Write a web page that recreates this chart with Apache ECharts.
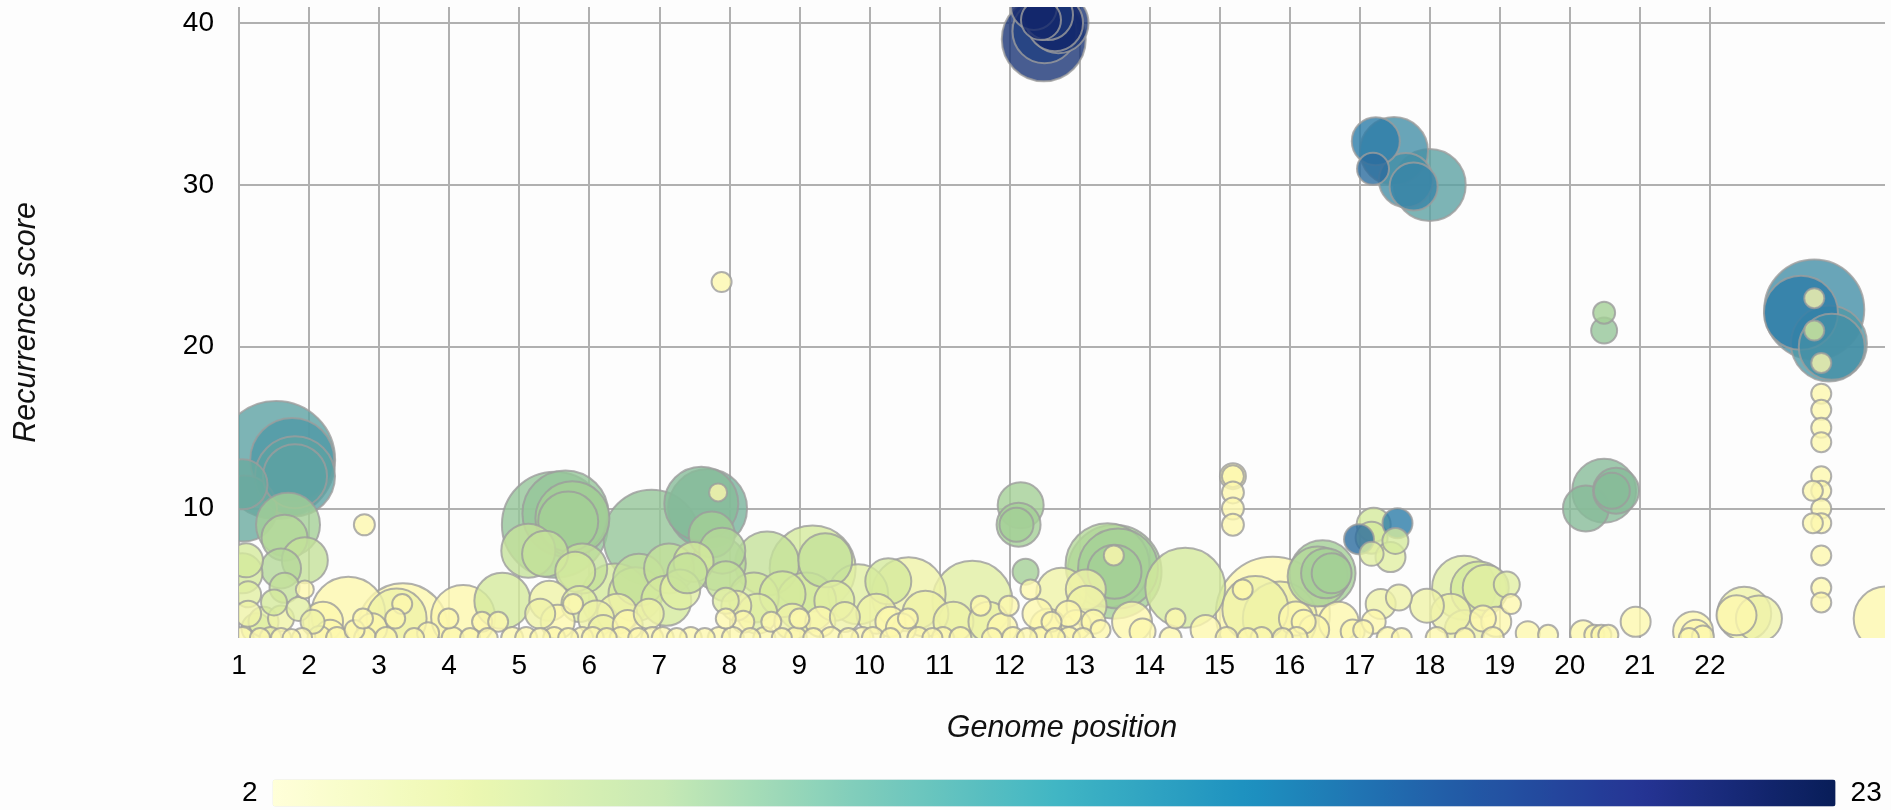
<!DOCTYPE html>
<html>
<head>
<meta charset="utf-8">
<script src="https://cdn.jsdelivr.net/npm/echarts@6/dist/echarts.min.js"></script>
<style>html,body{margin:0;padding:0;background:#fdfdfd;}#c{width:1891px;height:810px;}</style>
</head>
<body>
<div id="c"></div>
<script>
// Each row: [genome position (chromosome index + offset), recurrence score, bubble size, sample count]
const chromLabels = ['1','2','3','4','5','6','7','8','9','10','11','12','13','14','15','16','17','18','19','20','21','22'];
const colorRange = [2, 23];
const barPalette = ['#ffffd9','#edf8b1','#c7e9b4','#7fcdbb','#41b6c4','#1d91c0','#225ea8','#253494','#081d58'];
const bubblePalette = ['#fcf8ae','#d4ea9c','#a4cf96','#78b39b','#4f98a6','#2c7ca7','#284d8c','#13276b'];

const chr1Points = [
[1.53,13,118,13],[1.76,13,84,14],[1.8,12,80,13],[1.8,12,64,13],[1.07,10,66,12],[1.05,11.5,50,12],
[1.7,9,64,8],[1.65,8.2,46,7],[1.94,6.8,46,6],[1.6,6.3,40,7],[1.1,6.8,34,5],[1.05,6,40,5],
[1.65,5.1,30,6],[1.94,5,18,2],[1.13,4.7,26,4],[1.13,3.5,26,3],[1.6,3.2,26,3],[1.25,2.6,30,4],
[1.35,3.0,30,4],[1.5,4.2,26,5],[1.85,3.8,24,4],
[1.05,2,22,2],[1.3,2,20,2],[1.45,2,22,3],[1.6,2,20,2],[1.75,2,18,2],[1.9,2,20,2]
];
const chr2to4Points = [
[2.56,3.5,74,2],[2.3,2.2,30,2],[2.15,2,24,2],[2.4,2,22,2],[2.05,3,24,3],[2.79,9,21,2],[2.8,2,22,2],[2.65,2.5,20,2],
[2.2,3.0,40,2],[2.9,2.6,30,2],
[3.34,2.6,90,2],[3.25,3.2,60,3],[3.33,4.1,20,2],[3.23,3.2,20,2],[2.77,3.2,20,2],[3.1,2,22,2],[3.5,2,20,2],[3.7,2.3,22,2],
[4.2,3.3,64,2],[4.76,4.3,56,5],[3.99,3.2,20,2],[4.47,3,20,2],[4.7,3,20,2],[4.05,2,22,2],[4.3,2,20,2],[4.55,2,20,2],[4.9,2,22,2]
];
const chr5to7Points = [
[5.51,9,106,9],[5.66,9.7,86,9],[5.76,9.4,74,8],[5.7,9.2,60,8],[5.13,7.4,54,6],[5.37,7.2,46,6],[5.8,6.1,40,5],[5.9,6.3,50,6],
[5.43,4.3,40,3],[5.77,4.1,20,2],[5.3,3.5,30,3],[5.55,3,34,2],[5.1,2,22,2],[5.3,2,20,2],[5.5,2,22,2],[5.7,2,20,2],[5.9,2,22,2],
[5.86,4.1,36,4],[6.37,4.5,68,5],[6.71,5.6,52,6],[6.66,4.7,54,5],[6.4,3.5,40,3],[6.2,2.5,30,3],
[6.1,3.2,36,3],[6.55,2.8,30,2],[6.85,3.5,30,3],
[6.05,2,22,2],[6.25,2,20,2],[6.45,2,22,2],[6.7,2,20,2],[6.9,2,22,2],
[6.89,8.2,96,9],[7.14,6.3,50,6],[7.49,6.7,40,5],[7.1,4.3,50,5],[7.3,5,40,4],
[7.69,10,79,11],[7.6,10.3,74,10],[7.84,11,18,2],[7.75,8.4,46,8],[7.9,7.4,46,7],[7.4,6,40,6],[7.85,6.6,54,7],[7.95,5.5,40,6],[7.95,4.3,26,4],[7.95,3.2,20,2],
[7.05,2,22,2],[7.25,2,20,2],[7.45,2,22,2],[7.65,2,20,2],[7.85,2,22,2],[7.89,24,20,2]
];
const chr8to11Points = [
[8.54,6.6,64,6],[9.19,6.3,86,5],[9.37,6.8,54,6],[8.76,4.7,46,5],[9.5,4.3,40,4],[9.84,4.7,60,4],[9.1,4.2,60,5],[8.35,4.5,50,5],
[8.2,3,22,2],[8.6,3,20,2],[9.0,3.2,20,2],
[8.1,4.0,30,3],[8.4,3.5,40,4],[8.9,3.0,36,3],[9.3,3.0,30,2],[9.65,3.3,30,3],
[8.05,2,22,2],[8.3,2,20,2],[8.5,2,22,2],[8.75,2,20,2],[8.95,2,22,2],[9.2,2,20,2],[9.45,2,22,2],[9.7,2,20,2],[9.9,2,22,2],
[10.56,4.7,74,3],[10.27,5.5,46,5],[10.1,3.5,40,3],[10.3,3,30,2],[10.55,3.2,20,2],[10.8,3.5,46,3],[10.45,2.6,30,2],
[10.05,2,22,2],[10.3,2,20,2],[10.7,2,22,2],[10.9,2,20,2],
[11.47,4.3,80,4],[11.59,4,20,2],[11.99,4,20,2],[11.2,3,40,3],[11.7,3.0,40,3],[11.9,2.6,30,2],
[11.05,2,22,2],[11.3,2,22,2],[11.75,2,20,2]
];
const chr12to14Points = [
[12.16,10.2,46,8],[12.13,9,44,8],[12.1,9,34,8],[12.3,5,20,2],[12.23,6.1,26,8],[12.74,4.8,50,3],[13.09,5,40,3],
[12.4,3.5,30,2],[12.6,3,20,2],[12.84,3.5,26,2],[12.55,2.7,36,2],[12.95,2.8,30,2],
[12.05,2,22,2],[12.25,2,20,2],[12.45,2,22,2],[12.65,2,20,2],[12.85,2,22,2],
[12.35,41,46,23],[12.55,40.5,50,22],[12.65,40,56,23],[12.5,39.5,64,21],[12.49,39,84,22],[12.7,40,60,22],[12.45,40.2,40,23],
[13.5,6.1,94,8],[13.55,6.3,80,8],[13.5,6.1,54,8],[13.4,6.5,84,7],[13.49,7.1,20,2],[13.1,4,40,3],[13.2,3,24,2],[13.3,2.5,20,2],[13.05,2,20,2],
[13.75,3.0,40,2],[13.9,2.4,26,2],
[14.51,5.1,80,5],[14.37,3.2,20,2],[14.3,2,22,2],[14.8,2.5,30,2]
];
const chr15to19Points = [
[15.19,12,26,2],[15.19,12,22,2],[15.19,11,22,2],[15.19,10,22,2],[15.19,9,22,2],
[15.76,3.5,114,2],[15.51,3.8,66,3],[15.86,3.2,74,3],[15.33,5,20,2],[16.09,3.2,34,2],[15.1,2,22,2],[15.4,2,20,2],[15.6,2,22,2],[15.9,2,20,2],
[16.47,6,66,8],[16.52,6,50,8],[16.6,6,40,8],[16.4,5.8,60,7],[16.2,3,24,2],[16.35,2.5,30,2],[16.1,2,22,2],[16.7,3.0,40,2],[16.9,2.4,24,2],
[17.54,9.1,30,17],[16.99,8.1,30,18],[17.2,9,34,5],[17.17,8.2,32,5],[17.51,8,26,5],[17.44,7,30,4],[17.17,7.2,24,4],
[17.3,4.1,30,3],[17.56,4.5,26,3],[17.96,4,34,3],[17.05,2.5,20,2],[17.2,3,24,2],[17.4,2,22,2],[17.6,2,20,2],
[17.23,32.7,48,17],[17.49,32.1,68,15],[17.19,31,32,18],[17.66,30.3,54,15],[17.77,29.9,48,16],[18.0,30,72,13],
[18.49,5.1,64,4],[18.8,5.1,46,4],[18.7,5,56,5],[18.76,3.2,26,2],[18.5,2.5,40,3],[18.3,3.5,40,3],[18.95,3.0,30,2],
[18.1,2,22,2],[18.5,2,20,2],[18.9,2,22,2],
[19.16,4.1,20,2],[19.1,5.3,26,4],[19.69,2.2,20,2],[19.4,2.3,24,2]
];
const chr20toYPoints = [
[20.49,22.1,22,8],[20.49,21,26,9],[20.49,11.1,64,10],[20.23,10,46,10],[20.66,11.1,46,10],[20.6,11.1,36,10],
[20.19,2.3,26,2],[20.35,2.2,20,2],[20.45,2.2,20,2],[20.55,2.2,20,2],[20.94,3,30,2],
[21.76,2.4,40,2],[21.8,2.2,30,2],[21.7,2,20,2],[21.9,2.1,22,2],
[22.49,3.5,54,3],[22.7,3.2,46,3],[22.38,3.4,40,2],
[23.49,22.3,100,15],[23.3,22.1,74,17],[23.7,20.2,76,14],[23.74,20,66,15],
[23.49,23,20,2],[23.49,21,20,5],[23.59,19,20,2],
[23.59,17.1,20,2],[23.59,16.1,20,2],[23.59,15,20,2],[23.59,14.1,20,2],[23.59,12,20,2],[23.59,11.1,20,2],[23.59,10,20,2],[23.59,9.1,20,2],[23.59,7.1,20,2],[23.59,5.1,20,2],[23.59,4.2,20,2],[23.47,11.1,20,2],[23.47,9.1,20,2],
[24.51,3.2,64,2]
];

const allPoints = [].concat(chr1Points, chr2to4Points, chr5to7Points, chr8to11Points, chr12to14Points, chr15to19Points, chr20toYPoints)
  .slice().sort((a, b) => b[2] - a[2]);

const FONT = '"Liberation Sans", Arial, Helvetica, sans-serif';
const gridColor = '#b0b0b0';
const xLineColors = [];
for (let i = 0; i < 24; i++) xLineColors.push(i < chromLabels.length ? gridColor : 'rgba(0,0,0,0)');

const chart = echarts.init(document.getElementById('c'), null, {renderer: 'canvas'});
chart.setOption({
  animation: false,
  backgroundColor: '#fdfdfd',
  grid: {left: 239, right: 6, top: 7, bottom: 172, containLabel: false, outerBoundsMode: 'none'},
  xAxis: {
    type: 'value', min: 1, max: 24.5, interval: 1,
    name: 'Genome position', nameLocation: 'middle', nameGap: 76,
    nameTextStyle: {fontSize: 30.5, fontStyle: 'italic', color: '#111', fontFamily: FONT},
    axisLine: {show: false}, axisTick: {show: false},
    axisLabel: {
      fontSize: 28, color: '#000', fontFamily: FONT, margin: 14,
      showMaxLabel: false,
      formatter: v => (v >= 1 && v <= chromLabels.length && Number.isInteger(v)) ? chromLabels[v - 1] : ''
    },
    splitLine: {show: true, showMaxLine: false, lineStyle: {color: xLineColors, width: 2}}
  },
  yAxis: {
    type: 'value', min: 2, max: 41,
    name: 'Recurrence score', nameLocation: 'middle', nameGap: 197, nameRotate: 90,
    nameTextStyle: {fontSize: 30.5, fontStyle: 'italic', color: '#111', fontFamily: FONT},
    axisLine: {show: false}, axisTick: {show: false},
    axisLabel: {fontSize: 28, color: '#000', fontFamily: FONT, margin: 25, showMinLabel: false, showMaxLabel: false},
    splitLine: {show: true, showMinLine: false, showMaxLine: false, lineStyle: {color: gridColor, width: 2}}
  },
  visualMap: {
    type: 'continuous', min: colorRange[0], max: colorRange[1], dimension: 3, seriesIndex: 0,
    orient: 'horizontal', left: 227, top: 764, itemWidth: 27, itemHeight: 1563,
    text: [String(colorRange[1]), String(colorRange[0])], textGap: 15, calculable: false,
    textStyle: {fontSize: 28, color: '#000', fontFamily: FONT},
    inRange: {color: bubblePalette},
    controller: {inRange: {color: barPalette}}
  },
  series: [{
    type: 'custom',
    coordinateSystem: 'cartesian2d',
    data: allPoints,
    encode: {x: 0, y: 1},
    clip: true,
    renderItem: function (params, api) {
      const pt = api.coord([api.value(0), api.value(1)]);
      return {
        type: 'circle',
        shape: {cx: pt[0], cy: pt[1], r: api.value(2) / 2},
        style: {fill: api.visual('color'), stroke: '#9c9c9c', lineWidth: 2, opacity: 0.8}
      };
    }
  }]
});
</script>
</body>
</html>
